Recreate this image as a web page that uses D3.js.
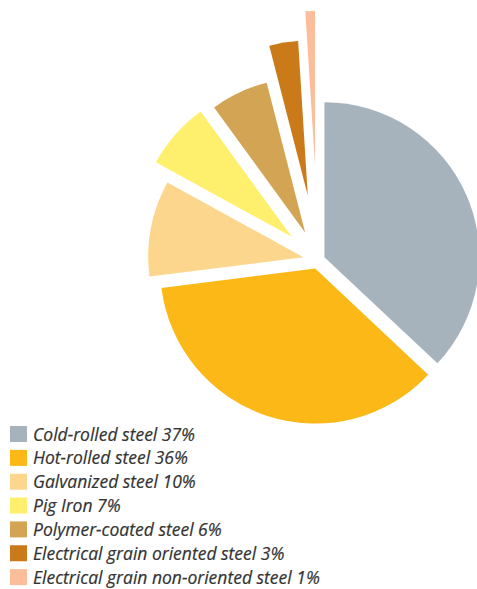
<!DOCTYPE html>
<html>
<head>
<meta charset="utf-8">
<script src="https://cdn.jsdelivr.net/npm/d3@7"></script>
<style>
  html, body { margin: 0; padding: 0; background: #fff; }
  svg { display: block; }
</style>
</head>
<body>
<svg id="chart" width="477" height="589"></svg>
<script>
// Steel product mix, share in percent
const categories = [
  "Cold-rolled steel",
  "Hot-rolled steel",
  "Galvanized steel",
  "Pig Iron",
  "Polymer-coated steel",
  "Electrical grain oriented steel",
  "Electrical grain non-oriented steel"
];
const shares = [37, 36, 10, 7, 6, 3, 1];

// Slice fills, in category order
const colors = ["#a7b3bc", "#fbb817", "#fdd68d", "#fef06c", "#d2a453", "#cb7a19", "#fbbd9a"];
// How far each slice is pulled out from the centre (px)
const explode = [7, 9, 15, 35, 30, 65, 94];

const svg = d3.select("#chart");
const cx = 318, cy = 260, radius = 155;

const pie = d3.pie().sort(null).value(d => d.value);
const arc = d3.arc().innerRadius(0).outerRadius(radius);

const rows = categories.map((c, i) => ({ name: c, value: shares[i], color: colors[i], off: explode[i] }));
const arcs = pie(rows);

const g = svg.append("g").attr("transform", `translate(${cx},${cy})`);
g.selectAll("path")
  .data(arcs)
  .join("path")
  .attr("d", arc)
  .attr("fill", d => d.data.color)
  .attr("transform", d => {
    const mid = (d.startAngle + d.endAngle) / 2;
    return `translate(${Math.sin(mid) * d.data.off},${-Math.cos(mid) * d.data.off})`;
  });

// Legend
const legend = svg.append("g").attr("transform", "translate(10,426)");
const rowH = 23.85;
const items = legend.selectAll("g")
  .data(rows)
  .join("g")
  .attr("transform", (d, i) => `translate(0,${i * rowH})`);
items.append("rect")
  .attr("width", 17).attr("height", 16)
  .attr("fill", d => d.color);
items.append("text")
  .attr("x", 23).attr("y", 14.5)
  .attr("font-family", "'Open Sans', sans-serif")
  .attr("font-style", "italic")
  .attr("font-size", 17.5)
  .attr("fill", "#333")
  .attr("stroke", "#333")
  .attr("stroke-width", 0.2)
  .text(d => `${d.name} ${d.value}%`);
</script>
</body>
</html>
